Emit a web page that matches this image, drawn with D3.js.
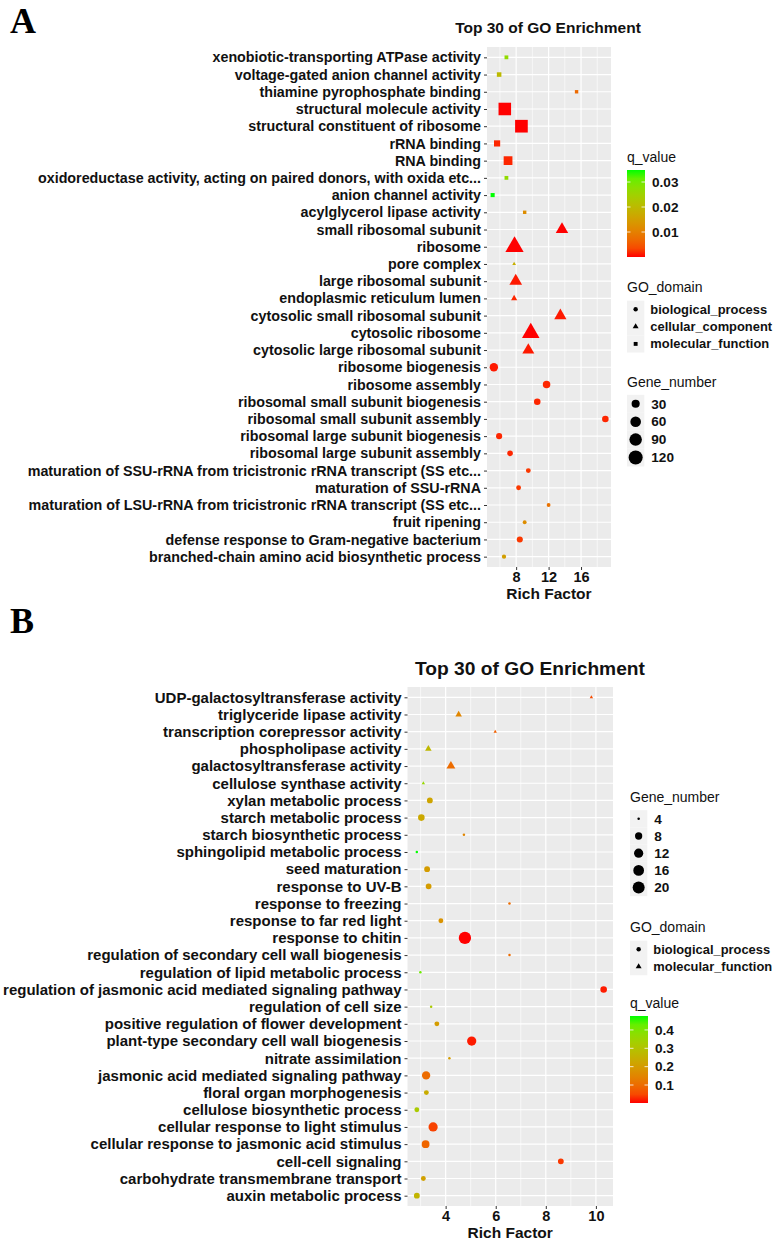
<!DOCTYPE html>
<html>
<head>
<meta charset="utf-8">
<script src="https://cdn.jsdelivr.net/npm/d3@7"></script>
<style>
  body { margin: 0; background: #fff; }
  svg { font-family: "Liberation Sans", Arial, sans-serif; }
</style>
</head>
<body>
<svg id="chart" width="778" height="1240"></svg>
<script>
// ---- panel A data (top row first) ----
const termsA = [
  "xenobiotic-transporting ATPase activity",
  "voltage-gated anion channel activity",
  "thiamine pyrophosphate binding",
  "structural molecule activity",
  "structural constituent of ribosome",
  "rRNA binding",
  "RNA binding",
  "oxidoreductase activity, acting on paired donors, with oxida etc...",
  "anion channel activity",
  "acylglycerol lipase activity",
  "small ribosomal subunit",
  "ribosome",
  "pore complex",
  "large ribosomal subunit",
  "endoplasmic reticulum lumen",
  "cytosolic small ribosomal subunit",
  "cytosolic ribosome",
  "cytosolic large ribosomal subunit",
  "ribosome biogenesis",
  "ribosome assembly",
  "ribosomal small subunit biogenesis",
  "ribosomal small subunit assembly",
  "ribosomal large subunit biogenesis",
  "ribosomal large subunit assembly",
  "maturation of SSU-rRNA from tricistronic rRNA transcript (SS etc...",
  "maturation of SSU-rRNA",
  "maturation of LSU-rRNA from tricistronic rRNA transcript (SS etc...",
  "fruit ripening",
  "defense response to Gram-negative bacterium",
  "branched-chain amino acid biosynthetic process"
];
const richA = [6.8, 5.9, 15.45, 6.6, 8.65, 5.65, 7.0, 6.8, 5.1, 9.05,
  13.65, 7.8, 7.75, 7.95, 7.75, 13.45, 9.8, 9.5,
  5.25, 11.75, 10.6, 19.0, 5.9, 7.25, 9.5, 8.3, 12.0, 9.05, 8.45, 6.5];
const qA = [0.027, 0.020, 0.007, 0.0, 0.0, 0.001, 0.001, 0.027, 0.0348, 0.012,
  0.0, 0.0, 0.018, 0.0005, 0.001, 0.0005, 0.0, 0.0005,
  0.0005, 0.001, 0.001, 0.001, 0.001, 0.001, 0.002, 0.002, 0.008, 0.012, 0.002, 0.015];
const genesA = [6, 9, 5, 122, 125, 20, 50, 6, 7, 5,
  42, 110, 4, 44, 7, 40, 100, 38,
  33, 24, 17, 17, 14, 11, 8, 8, 5, 5, 14, 6];
const domainA = [
  "molecular_function", "molecular_function", "molecular_function", "molecular_function", "molecular_function",
  "molecular_function", "molecular_function", "molecular_function", "molecular_function", "molecular_function",
  "cellular_component", "cellular_component", "cellular_component", "cellular_component",
  "cellular_component", "cellular_component", "cellular_component", "cellular_component",
  "biological_process", "biological_process", "biological_process", "biological_process",
  "biological_process", "biological_process", "biological_process", "biological_process",
  "biological_process", "biological_process", "biological_process", "biological_process"
];
const ticksA = [8, 12, 16];
const qTicksA = [0.01, 0.02, 0.03];
const geneTicksA = [30, 60, 90, 120];
const domainsA = ["biological_process", "cellular_component", "molecular_function"];

// ---- panel B data (top row first) ----
const termsB = [
  "UDP-galactosyltransferase activity",
  "triglyceride lipase activity",
  "transcription corepressor activity",
  "phospholipase activity",
  "galactosyltransferase activity",
  "cellulose synthase activity",
  "xylan metabolic process",
  "starch metabolic process",
  "starch biosynthetic process",
  "sphingolipid metabolic process",
  "seed maturation",
  "response to UV-B",
  "response to freezing",
  "response to far red light",
  "response to chitin",
  "regulation of secondary cell wall biogenesis",
  "regulation of lipid metabolic process",
  "regulation of jasmonic acid mediated signaling pathway",
  "regulation of cell size",
  "positive regulation of flower development",
  "plant-type secondary cell wall biogenesis",
  "nitrate assimilation",
  "jasmonic acid mediated signaling pathway",
  "floral organ morphogenesis",
  "cellulose biosynthetic process",
  "cellular response to light stimulus",
  "cellular response to jasmonic acid stimulus",
  "cell-cell signaling",
  "carbohydrate transmembrane transport",
  "auxin metabolic process"
];
const richB = [9.82, 4.52, 5.98, 3.31, 4.21, 3.11, 3.37, 3.03, 4.73, 2.85,
  3.26, 3.32, 6.55, 3.81, 4.77, 6.55, 2.99, 10.31, 3.42, 3.65,
  5.04, 4.15, 3.22, 3.23, 2.85, 3.5, 3.2, 8.6, 3.11, 2.85];
const qB = [0.05, 0.15, 0.08, 0.27, 0.10, 0.36, 0.22, 0.23, 0.15, 0.476,
  0.20, 0.20, 0.10, 0.18, 0.002, 0.10, 0.42, 0.01, 0.32, 0.20,
  0.01, 0.20, 0.10, 0.24, 0.32, 0.04, 0.09, 0.03, 0.21, 0.26];
const genesB = [4, 5, 4, 5, 7, 4, 6, 7, 4, 4,
  6, 6, 4, 5, 21, 4, 4, 7, 4, 5,
  12, 4, 10, 5, 5, 12, 9, 6, 5, 6];
const domainB = [
  "molecular_function", "molecular_function", "molecular_function",
  "molecular_function", "molecular_function", "molecular_function",
  "biological_process", "biological_process", "biological_process", "biological_process",
  "biological_process", "biological_process", "biological_process", "biological_process",
  "biological_process", "biological_process", "biological_process", "biological_process",
  "biological_process", "biological_process", "biological_process", "biological_process",
  "biological_process", "biological_process", "biological_process", "biological_process",
  "biological_process", "biological_process", "biological_process", "biological_process"
];
const ticksB = [4, 6, 8, 10];
const qTicksB = [0.1, 0.2, 0.3, 0.4];
const geneTicksB = [4, 8, 12, 16, 20];
const domainsB = ["biological_process", "molecular_function"];

// ggplot assigns shapes by level order: circle, triangle, square
const shapeList = [d3.symbolCircle, d3.symbolTriangle, d3.symbolSquare];
const colorRamp = d3.interpolateLab("#ff0000", "#00ff00");
const svg = d3.select("#chart");

function sizeScale(extent, dRange) {
  const unit = d3.scaleLinear().domain(extent).range([0, 1]).clamp(true);
  const diam = d3.scaleLinear().domain([0, 1]).range(dRange);
  return v => diam(Math.sqrt(unit(v)));
}

function symbolPath(shape, d) {
  return d3.symbol().type(shape).size(Math.PI * (d / 2) * (d / 2))();
}

function drawPanel(p) {
  const g = svg.append("g");
  const rows = p.terms.map((t, i) => ({
    term: t, rich: p.rich[i], q: p.q[i], genes: p.genes[i], domain: p.domain[i]
  }));

  const ext = d3.extent(p.rich);
  const pad = (ext[1] - ext[0]) * 0.05;
  const x = d3.scaleLinear().domain([ext[0] - pad, ext[1] + pad]).range([p.left, p.right]);
  const y = d3.scalePoint().domain(p.terms).range([p.top, p.bottom]).padding(0.6);
  const qDomain = d3.extent(p.q);
  const color = d3.scaleSequential(colorRamp).domain(qDomain);
  const size = sizeScale(d3.extent(p.genes), p.dRange);
  const shape = d3.scaleOrdinal().domain(p.domains).range(shapeList);

  // panel background + grid
  g.append("rect").attr("x", p.left).attr("y", p.top)
    .attr("width", p.right - p.left).attr("height", p.bottom - p.top)
    .attr("fill", "#ebebeb");
  g.selectAll(".minor").data(p.minor).enter().append("line")
    .attr("x1", d => x(d)).attr("x2", d => x(d))
    .attr("y1", p.top).attr("y2", p.bottom)
    .attr("stroke", "#fff").attr("stroke-width", 0.6);
  g.selectAll(".vmaj").data(p.ticks).enter().append("line")
    .attr("x1", d => x(d)).attr("x2", d => x(d))
    .attr("y1", p.top).attr("y2", p.bottom)
    .attr("stroke", "#fff").attr("stroke-width", 1.2);
  g.selectAll(".hmaj").data(p.terms).enter().append("line")
    .attr("x1", p.left).attr("x2", p.right)
    .attr("y1", d => y(d)).attr("y2", d => y(d))
    .attr("stroke", "#fff").attr("stroke-width", 1.2);

  // axes
  const ax = g.append("g").attr("transform", `translate(0,${p.bottom})`)
    .call(d3.axisBottom(x).tickValues(p.ticks).tickSize(3).tickPadding(2).tickFormat(d3.format("d")));
  const ay = g.append("g").attr("transform", `translate(${p.left},0)`)
    .call(d3.axisLeft(y).tickSize(3).tickPadding(3));
  [ax, ay].forEach(a => {
    a.select(".domain").remove();
    a.selectAll(".tick line").attr("stroke", "#333");
    a.selectAll("text").attr("fill", "#111").style("font-weight", "bold");
  });
  ax.selectAll("text").style("font-size", p.tickFont + "px");
  ay.selectAll("text").style("font-size", p.labelFont + "px");

  g.append("text").attr("x", (p.left + p.right) / 2).attr("y", p.xTitleY)
    .attr("text-anchor", "middle").style("font-weight", "bold")
    .style("font-size", p.xTitleFont + "px").attr("fill", "#111").text("Rich Factor");
  g.append("text").attr("x", p.titleX).attr("y", p.titleY)
    .attr("text-anchor", "middle").style("font-weight", "bold")
    .style("font-size", p.titleFont + "px").attr("fill", "#111").text("Top 30 of GO Enrichment");
  g.append("text").attr("x", 10).attr("y", p.letterY)
    .style("font-family", "'Liberation Serif', 'Times New Roman', serif")
    .style("font-weight", "bold").style("font-size", "36px").text(p.letter);

  // points
  g.selectAll(".pt").data(rows).enter().append("path")
    .attr("transform", d => `translate(${x(d.rich)},${y(d.term)})`)
    .attr("d", d => symbolPath(shape(d.domain), size(d.genes)))
    .attr("fill", d => color(d.q));

  // legends
  const L = p.legendX;
  const key = 17.3;
  const legFont = "12.9px";
  const legends = {
    q: (top) => {
      g.append("text").attr("x", L).attr("y", top).attr("dy", "0.35em")
        .style("font-size", "14px").attr("fill", "#111").text("q_value");
      const barTop = top + 13, barH = 87, barW = 18;
      const gid = "grad" + p.letter;
      const grad = svg.append("defs").append("linearGradient").attr("id", gid)
        .attr("x1", 0).attr("x2", 0).attr("y1", 1).attr("y2", 0);
      d3.range(0, 1.0001, 0.1).forEach(t => grad.append("stop")
        .attr("offset", t).attr("stop-color", colorRamp(t)));
      g.append("rect").attr("x", L).attr("y", barTop).attr("width", barW).attr("height", barH)
        .attr("fill", `url(#${gid})`);
      const qy = d3.scaleLinear().domain(qDomain).range([barTop + barH, barTop]);
      p.qTicks.forEach(t => {
        g.append("line").attr("x1", L).attr("x2", L + 3.5).attr("y1", qy(t)).attr("y2", qy(t))
          .attr("stroke", "#fff").attr("stroke-width", 0.8);
        g.append("line").attr("x1", L + barW - 3.5).attr("x2", L + barW).attr("y1", qy(t)).attr("y2", qy(t))
          .attr("stroke", "#fff").attr("stroke-width", 0.8);
        g.append("text").attr("x", L + barW + 7).attr("y", qy(t)).attr("dy", "0.35em")
          .style("font-size", "13.6px").style("font-weight", "bold").attr("fill", "#111").text(t);
      });
    },
    domain: (top) => {
      g.append("text").attr("x", L).attr("y", top).attr("dy", "0.35em")
        .style("font-size", "14px").attr("fill", "#111").text("GO_domain");
      p.domains.forEach((dm, i) => {
        const cy = top + 22.3 + i * key;
        g.append("rect").attr("x", L).attr("y", cy - key / 2).attr("width", key).attr("height", key)
          .attr("fill", "#f2f2f2");
        g.append("path").attr("transform", `translate(${L + key / 2},${cy})`)
          .attr("d", symbolPath(shape(dm), 4.4)).attr("fill", "#000");
        g.append("text").attr("x", L + key + 6).attr("y", cy).attr("dy", "0.35em")
          .style("font-size", legFont).style("font-weight", "bold").attr("fill", "#111").text(dm);
      });
    },
    genes: (top) => {
      g.append("text").attr("x", L).attr("y", top).attr("dy", "0.35em")
        .style("font-size", "14px").attr("fill", "#111").text("Gene_number");
      p.geneTicks.forEach((v, i) => {
        const cy = top + 21.8 + i * p.geneStep;
        g.append("rect").attr("x", L).attr("y", cy - p.geneStep / 2).attr("width", key).attr("height", p.geneStep)
          .attr("fill", "#f2f2f2");
        g.append("path").attr("transform", `translate(${L + key / 2},${cy})`)
          .attr("d", symbolPath(d3.symbolCircle, size(v))).attr("fill", "#000");
        g.append("text").attr("x", L + key + 7).attr("y", cy).attr("dy", "0.35em")
          .style("font-size", "13.6px").style("font-weight", "bold").attr("fill", "#111").text(v);
      });
    }
  };
  p.legendOrder.forEach((k, i) => legends[k](p.legendTops[i]));
}

drawPanel({
  letter: "A", letterY: 33,
  terms: termsA, rich: richA, q: qA, genes: genesA, domain: domainA,
  left: 487, right: 611, top: 47, bottom: 567,
  ticks: ticksA, minor: [6, 10, 14, 18],
  dRange: [2.8, 14.3],
  labelFont: 14.3, tickFont: 14.5, xTitleFont: 15.5, xTitleY: 599,
  titleX: 548, titleY: 33, titleFont: 15.5,
  legendX: 627, legendOrder: ["q", "domain", "genes"], legendTops: [157, 287, 382],
  qTicks: qTicksA, geneTicks: geneTicksA, geneStep: 17.9, domains: domainsA
});

drawPanel({
  letter: "B", letterY: 633,
  terms: termsB, rich: richB, q: qB, genes: genesB, domain: domainB,
  left: 407.5, right: 613, top: 687, bottom: 1206,
  ticks: ticksB, minor: [3, 5, 7, 9],
  dRange: [2.5, 12.3],
  labelFont: 15, tickFont: 14.5, xTitleFont: 15.5, xTitleY: 1238,
  titleX: 530, titleY: 675, titleFont: 19.2,
  legendX: 630, legendOrder: ["genes", "domain", "q"], legendTops: [797, 927, 1003],
  qTicks: qTicksB, geneTicks: geneTicksB, geneStep: 17.2, domains: domainsB
});
</script>
</body>
</html>
